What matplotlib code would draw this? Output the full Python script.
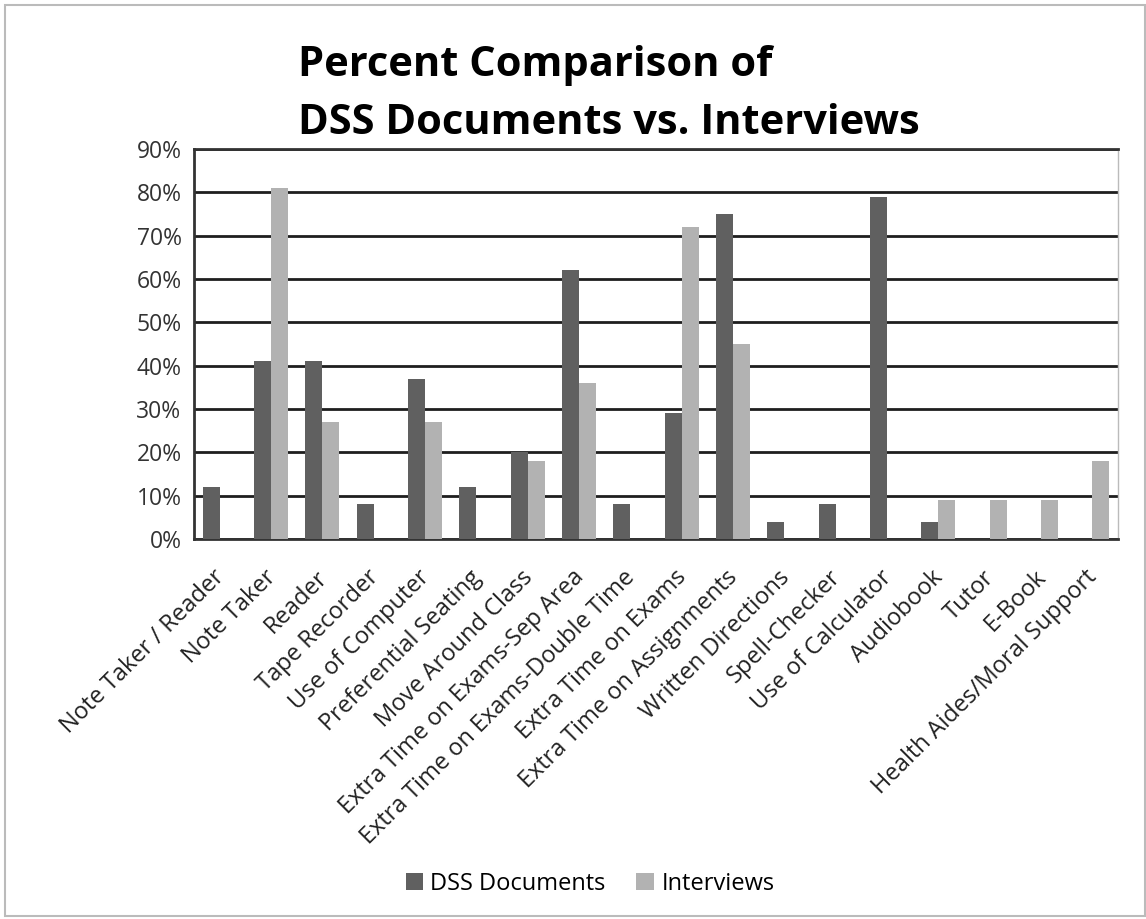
import matplotlib
matplotlib.use("Agg")
import matplotlib.pyplot as plt
import matplotlib.transforms as mtransforms
import numpy as np
from matplotlib.patches import Rectangle

categories = ["Note Taker / Reader", "Note Taker", "Reader", "Tape Recorder",
              "Use of Computer", "Preferential Seating", "Move Around Class",
              "Extra Time on Exams-Sep Area", "Extra Time on Exams-Double Time",
              "Extra Time on Exams", "Extra Time on Assignments",
              "Written Directions", "Spell-Checker", "Use of Calculator",
              "Audiobook", "Tutor", "E-Book", "Health Aides/Moral Support"]
dss = [12, 41, 41, 8, 37, 12, 20, 62, 8, 29, 75, 4, 8, 79, 4, 0, 0, 0]
interviews = [0, 81, 27, 0, 27, 0, 18, 36, 0, 72, 45, 0, 0, 0, 9, 9, 9, 18]
yticks = [0, 10, 20, 30, 40, 50, 60, 70, 80, 90]
ytick_labels = ["0%", "10%", "20%", "30%", "40%", "50%", "60%", "70%", "80%", "90%"]

plt.rcParams['font.family'] = ['Open Sans', 'DejaVu Sans']

fig = plt.figure(figsize=(11.46, 9.19), dpi=100)
ax = fig.add_axes([194/1146, 1-539/919, (1118-194)/1146, (539-149)/919])

x = np.arange(len(categories))
w = 1/3
ax.bar(x - w/2, dss, width=w, color="#606060", label="DSS Documents", zorder=3)
ax.bar(x + w/2, interviews, width=w, color="#b2b2b2", label="Interviews", zorder=3)

ax.set_xlim(-0.5, len(categories) - 0.5)
ax.set_ylim(0, 90)
ax.set_yticks(yticks)
ax.set_yticklabels(ytick_labels, fontsize=16.5, color="#333333")
ax.set_xticks(x)
ax.set_xticklabels(categories, rotation=45, ha="right", va="top",
                   rotation_mode="anchor", fontsize=17, color="#222222")
ax.tick_params(axis="both", length=0)
ax.tick_params(axis="y", pad=9)
ax.tick_params(axis="x", pad=19)
offset = mtransforms.ScaledTranslation(-7/100, 0, fig.dpi_scale_trans)
for lab in ax.get_xticklabels():
    lab.set_transform(lab.get_transform() + offset)
ax.yaxis.grid(True, color="#1e1e1e", linewidth=2, zorder=1)
ax.set_axisbelow(True)
for s in ["left", "bottom", "top"]:
    ax.spines[s].set_color("#333333")
    ax.spines[s].set_linewidth(2)
ax.spines["right"].set_color("#bbbbbb")
ax.spines["right"].set_linewidth(1)

fig.text(298/1146, 1-76/919, "Percent Comparison of", fontsize=30,
         fontweight="bold", ha="left", va="baseline")
fig.text(298/1146, 1-134/919, "DSS Documents vs. Interviews", fontsize=30,
         fontweight="bold", ha="left", va="baseline")

fig.legend(loc="center", bbox_to_anchor=(590/1146, 1-884/919), ncol=2,
           frameon=False, fontsize=17, handlelength=0.75, handleheight=0.75,
           columnspacing=1.3, handletextpad=0.3)

fig.patches.append(Rectangle((5/1146, 3/919), 1140/1146, 911/919,
                             transform=fig.transFigure, fill=False,
                             edgecolor="#bbbbbb", linewidth=1.5))

fig.savefig("out.png", dpi=100)
